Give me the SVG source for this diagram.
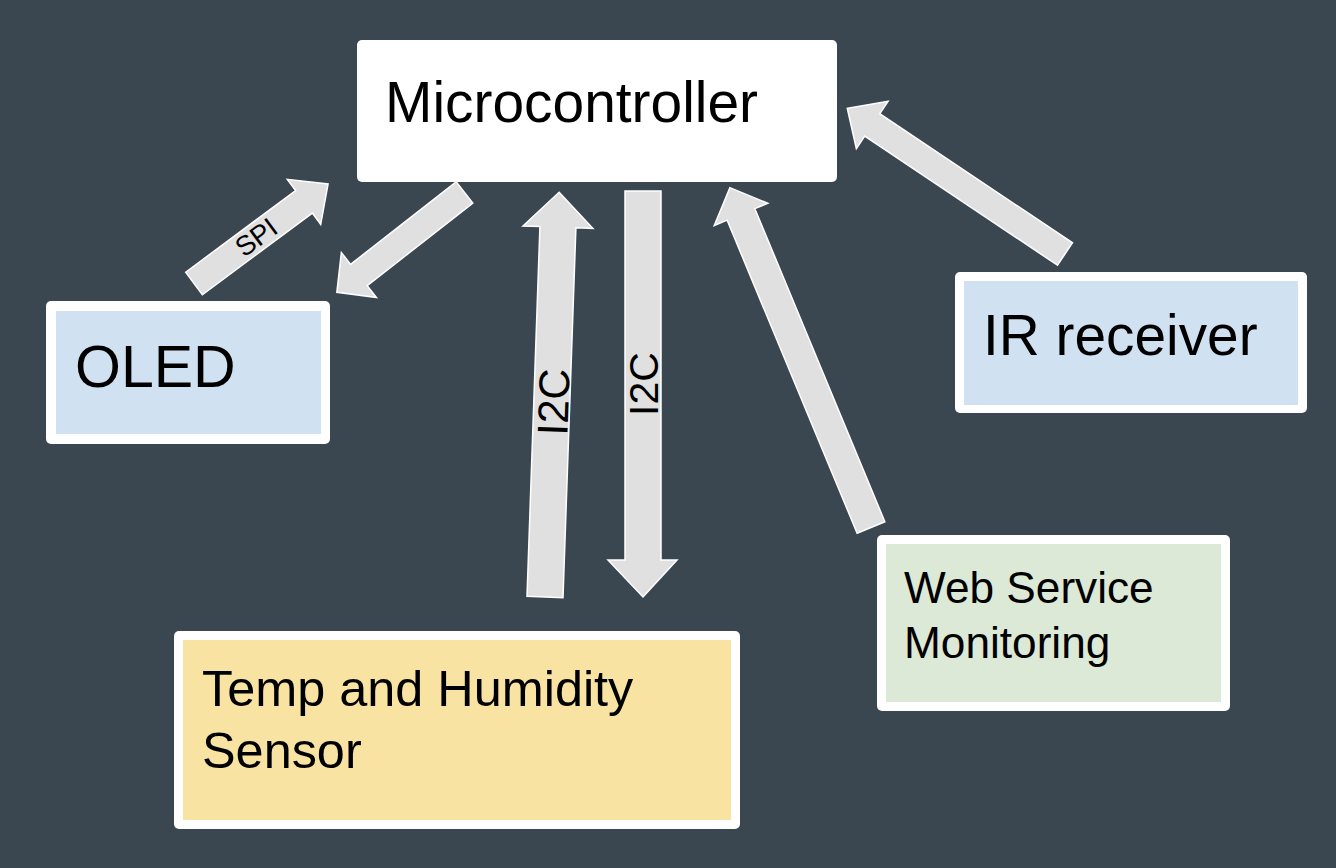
<svg xmlns="http://www.w3.org/2000/svg" width="1336" height="868" viewBox="0 0 1336 868">
<style>
.txt{font-family:"Liberation Sans",Arial,sans-serif;fill:#000}
.outer{fill:#fff}
.arrow{fill:#e0e0e0;stroke:#fff;stroke-width:1.5;stroke-linejoin:miter}
</style>
<rect x="0" y="0" width="1336" height="868" fill="#3b4750"/>
<g id="connectors">
  <g id="spi-up">
    <polygon class="arrow" transform="translate(194,283.5) rotate(-36.6)" points="0,-14 137,-14 137,-28 167,0 137,28 137,14 0,14"/>
    <text class="txt" font-size="27.5" text-anchor="middle" transform="translate(256,237) rotate(-36.6)" x="0" y="9.8">SPI</text>
  </g>
  <g id="mc-to-oled">
    <polygon class="arrow" transform="translate(464.5,192.5) rotate(142)" points="0,-13.5 134,-13.5 134,-28.5 162,0 134,28.5 134,13.5 0,13.5"/>
  </g>
  <g id="i2c-up">
    <polygon class="arrow" transform="translate(545,597) rotate(-88)" points="0,-18 370,-18 370,-35 405,0 370,35 370,18 0,18"/>
    <text class="txt" font-size="43" text-anchor="middle" transform="translate(553,402) rotate(-88)" x="0" y="15.4">I2C</text>
  </g>
  <g id="i2c-down">
    <polygon class="arrow" points="625,191 661,191 661,560 677,560 643,597 608,560 625,560"/>
    <text class="txt" font-size="41" text-anchor="middle" transform="translate(643,384) rotate(-90)" x="0" y="14.7">I2C</text>
  </g>
  <g id="web-up">
    <polygon class="arrow" transform="translate(871,527.5) rotate(-112.55)" points="0,-15 339,-15 339,-29 368,0 339,29 339,15 0,15"/>
  </g>
  <g id="ir-up">
    <polygon class="arrow" transform="translate(1065,254) rotate(-146.2)" points="0,-13.5 232,-13.5 232,-28.5 262,0 232,28.5 232,13.5 0,13.5"/>
  </g>
</g>
<g id="microcontroller">
  <rect class="outer" x="357" y="40" width="480" height="142" rx="5"/>
  <text class="txt" x="385" y="122" font-size="56.9">Microcontroller</text>
</g>
<g id="oled">
  <rect class="outer" x="46" y="301" width="284" height="143" rx="5"/>
  <rect x="56" y="311" width="265" height="123" fill="#d0e1f2"/>
  <text class="txt" x="75" y="387" font-size="59">OLED</text>
</g>
<g id="ir-receiver">
  <rect class="outer" x="955" y="272" width="352" height="141" rx="5"/>
  <rect x="964" y="281" width="334" height="124" fill="#d0e1f2"/>
  <text class="txt" x="983" y="355" font-size="56.8">IR receiver</text>
</g>
<g id="web-service">
  <rect class="outer" x="877" y="535" width="353" height="176" rx="5"/>
  <rect x="886" y="544" width="335" height="158" fill="#dce9d6"/>
  <text class="txt" x="904" y="603" font-size="44.2">Web Service</text>
  <text class="txt" x="904" y="658" font-size="44.2">Monitoring</text>
</g>
<g id="temp-humidity">
  <rect class="outer" x="174" y="631" width="566" height="198" rx="5"/>
  <rect x="183" y="640" width="548" height="180" fill="#f9e3a3"/>
  <text class="txt" x="202" y="706" font-size="50.4">Temp and Humidity</text>
  <text class="txt" x="202" y="768" font-size="50.4">Sensor</text>
</g>
</svg>
